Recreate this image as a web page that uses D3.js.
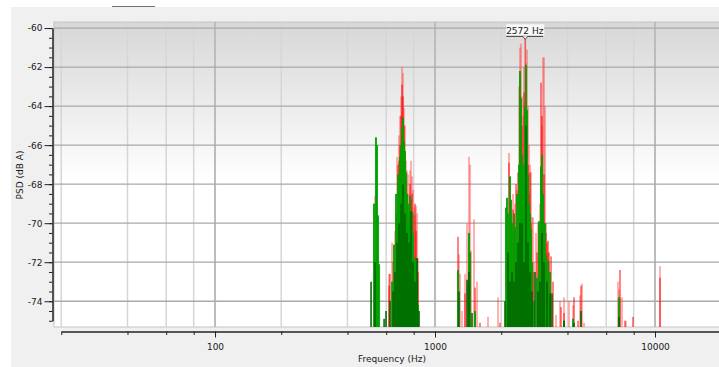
<!DOCTYPE html>
<html>
<head>
<meta charset="utf-8">
<script src="https://cdn.jsdelivr.net/npm/d3@7"></script>
<style>
  html, body { margin: 0; padding: 0; background: #ffffff; }
  svg { display: block; }
  text { font-family: "DejaVu Sans", sans-serif; font-size: 9px; fill: #1a1a1a; }
</style>
</head>
<body>
<svg id="psd" width="719" height="367"></svg>
<script>
// 频谱数据: [频率 Hz, PSD dB(A)]
const maxHoldRed = [
  [534, -68.6], [618, -72.6], [638, -71.0], [658, -70.4], [672, -66.6], [686, -65.5],
  [693, -64.5], [701, -63.5], [708, -62.0], [715, -62.3], [723, -64.1], [730, -65.0],
  [738, -66.8], [746, -67.3], [754, -67.5], [762, -68.5], [770, -67.3], [778, -66.8],
  [786, -67.6], [794, -68.3], [803, -69.2], [811, -69.6], [820, -69.1], [829, -69.5],
  [837, -71.8],
  [1285, -71.6], [1299, -72.6], [1326, -74.5], [1369, -72.6], [1398, -70.0], [1427, -66.6],
  [1443, -67.0], [1458, -71.4], [1504, -69.8], [1552, -73.0], [1741, -74.8], [1934, -73.8],
  [2169, -66.4], [2262, -68.5], [2310, -69.0], [2359, -68.3], [2409, -63.0], [2434, -61.0],
  [2460, -60.8], [2486, -63.5], [2512, -64.5], [2538, -62.0], [2592, -61.8], [2619, -61.1],
  [2647, -64.0], [2675, -66.0], [2703, -67.0], [2731, -67.4], [2760, -69.7], [2789, -69.7],
  [2818, -72.0], [2878, -70.5], [2938, -70.0], [3000, -69.0], [3064, -65.0], [3096, -61.5],
  [3129, -61.5], [3162, -64.0], [3195, -70.0], [3263, -71.5], [3297, -72.0], [3549, -74.7],
  [3700, -74.0], [3858, -73.8], [4065, -74.0], [4240, -74.2], [4562, -73.7], [4659, -73.1],
  [4757, -75.1], [6788, -73.0], [6859, -73.4], [6932, -73.8], [7079, -73.8], [7379, -75.0],
  [10537, -72.2]
]

const currentRed = [
  [618, -73.2], [624, -72.6], [645, -72.0], [665, -69.5], [679, -67.0], [686, -66.8],
  [693, -66.0], [701, -64.5], [708, -62.9], [715, -63.5], [723, -65.0], [730, -66.4],
  [738, -67.8], [746, -68.5], [754, -69.8], [762, -69.5], [770, -68.0], [778, -68.8],
  [786, -68.5], [794, -69.5], [811, -69.0], [820, -70.4], [829, -71.8], [837, -72.5],
  [1272, -70.7], [1369, -73.6], [1413, -73.0], [1443, -72.0], [1520, -73.3], [1601, -75.1],
  [1975, -75.1], [2169, -66.9], [2215, -69.5], [2262, -69.3], [2286, -70.5], [2334, -68.0],
  [2384, -67.4], [2434, -62.4], [2460, -66.5], [2486, -65.0], [2538, -63.3], [2572, -60.45],
  [2619, -65.5], [2647, -67.0], [2675, -68.5], [2703, -67.4], [2731, -70.0], [2789, -72.5],
  [2908, -71.5], [2969, -70.3], [3032, -62.8], [3064, -64.5], [3129, -67.5], [3195, -70.5],
  [3229, -71.0], [3263, -70.9], [3297, -71.5], [3367, -71.7], [3438, -73.0], [3738, -74.3],
  [3858, -74.6], [4284, -73.8], [4467, -75.0], [4610, -73.2], [6932, -72.4], [7304, -75.0],
  [7943, -74.8], [10537, -72.8]
]

const currentGreen = [
  [528, -69.0], [539, -65.6], [545, -66.0], [551, -69.6], [557, -72.1],
  [638, -73.0], [651, -71.1], [665, -68.5], [672, -69.5], [679, -67.5], [686, -68.0],
  [693, -66.6], [701, -66.0], [708, -65.1], [715, -64.6], [723, -65.8], [730, -66.3],
  [738, -67.4], [746, -68.5], [754, -70.0], [762, -69.0], [770, -68.6], [778, -69.8],
  [786, -69.4], [794, -70.5], [803, -71.8], [811, -72.0], [820, -71.8], [829, -72.8],
  [837, -74.2],
  [1272, -72.4], [1427, -70.5], [1443, -71.5], [1520, -74.5],
  [2102, -69.2], [2124, -68.7], [2147, -69.5], [2192, -67.6], [2215, -68.8], [2239, -70.0],
  [2286, -69.5], [2310, -70.2], [2334, -71.0], [2359, -68.5], [2409, -67.0], [2434, -62.2],
  [2460, -63.6], [2486, -66.5], [2512, -68.0], [2538, -67.0], [2565, -64.0], [2592, -61.9],
  [2619, -64.2], [2647, -67.5], [2675, -69.0], [2703, -69.5], [2731, -70.3], [2760, -72.0],
  [2818, -74.0], [2908, -72.8], [2969, -69.9], [3032, -67.1], [3064, -66.5], [3096, -68.5],
  [3162, -70.0], [3195, -71.6], [3263, -71.9], [3332, -72.5], [3858, -75.0], [4240, -74.9],
  [6859, -73.8]
]

const darkGreen = [
  [512, -73.0], [534, -72.0], [587, -74.9], [599, -74.5], [624, -74.0], [645, -73.5],
  [658, -72.5], [672, -71.0], [686, -70.0], [701, -69.0], [715, -68.0], [730, -69.5],
  [746, -70.5], [762, -71.0], [778, -69.4], [794, -72.0], [811, -73.0], [829, -71.8],
  [846, -74.5],
  [1285, -73.5], [1398, -72.9], [1427, -72.5], [1473, -74.6],
  [2080, -74.0], [2147, -71.5], [2192, -73.0], [2239, -72.5], [2286, -73.0], [2334, -72.0],
  [2384, -71.0], [2434, -70.0], [2486, -70.0], [2538, -72.0], [2592, -65.0], [2647, -71.0],
  [2703, -72.5], [2760, -73.5], [2848, -72.5], [2938, -73.5], [3000, -73.0], [3064, -70.5],
  [3129, -72.0], [3229, -73.0], [3332, -73.6], [3402, -73.6], [3858, -75.0], [4284, -75.1],
  [4610, -74.5], [6859, -74.8]
]

const yMajorTicks = [-74, -72, -70, -68, -66, -64, -62, -60]
const xGridTicks = [20, 40, 60, 80, 100, 200, 400, 600, 800, 1000, 2000, 4000, 6000, 8000, 10000, 20000]
const xLabelTicks = [100, 1000, 10000]
const peakHz = 2572

const svg = d3.select("#psd")
const [plotL, plotR, plotT, plotB] = [54, 730, 22, 327]

// 对数频率轴
const x = d3.scaleLog().domain([18.54, 21920]).range([plotL, plotR])
const y = d3.scaleLinear().domain([-75.32, -59.69]).range([plotB, plotT])

// 外框背景
svg.append("rect").attr("x", 11).attr("y", 7).attr("width", 708).attr("height", 360).attr("fill", "#f0f0f0")
svg.append("line").attr("x1", 112).attr("x2", 155).attr("y1", 6.5).attr("y2", 6.5).attr("stroke", "#707070").attr("stroke-width", 1)

const defs = svg.append("defs")
const grad = defs.append("linearGradient").attr("id", "bg").attr("x1", 0).attr("x2", 0).attr("y1", 0).attr("y2", 1)
grad.append("stop").attr("offset", "0%").attr("stop-color", "#d7d7d7")
grad.append("stop").attr("offset", "52%").attr("stop-color", "#ffffff")
grad.append("stop").attr("offset", "100%").attr("stop-color", "#ffffff")
defs.append("clipPath").attr("id", "clip").append("rect")
  .attr("x", plotL).attr("y", plotT).attr("width", plotR - plotL).attr("height", plotB - plotT)

svg.append("rect").attr("x", plotL).attr("y", plotT).attr("width", plotR - plotL).attr("height", plotB - plotT)
  .attr("fill", "url(#bg)").attr("stroke", "#c4c4c4")

const plot = svg.append("g").attr("clip-path", "url(#clip)")

// 网格线
plot.selectAll(".vgrid").data(xGridTicks).enter().append("line")
  .attr("x1", d => x(d)).attr("x2", d => x(d)).attr("y1", plotT).attr("y2", plotB)
  .attr("stroke", d => xLabelTicks.includes(d) ? "#bcbcbc" : "#d6d6d6")
  .attr("stroke-width", d => xLabelTicks.includes(d) ? 2 : 1.5)
plot.selectAll(".hgrid").data(yMajorTicks).enter().append("line")
  .attr("x1", plotL).attr("x2", plotR).attr("y1", d => y(d)).attr("y2", d => y(d))
  .attr("stroke", "#a9a9a9").attr("stroke-width", 1.3)

// 频谱柱
const series = [
  { data: maxHoldRed, color: "rgba(255,70,70,0.42)", w: 2 },
  { data: currentRed, color: "rgba(255,0,0,0.6)", w: 1.6 },
  { data: currentGreen, color: "rgba(0,160,0,0.92)", w: 2 },
  { data: darkGreen, color: "rgba(0,100,0,0.85)", w: 1.8 }
]
series.forEach(s => {
  plot.append("g").selectAll("rect").data(s.data).enter().append("rect")
    .attr("x", d => x(d[0]) - s.w / 2)
    .attr("y", d => y(d[1]))
    .attr("width", s.w)
    .attr("height", d => plotB - y(d[1]))
    .attr("fill", s.color)
})

// 峰值标注
const peak = currentRed.find(d => d[0] === peakHz)
const px = x(peak[0]), py = y(peak[1])
const tip = svg.append("g")
tip.append("rect").attr("x", px - 19).attr("y", py - 12.5).attr("width", 38).attr("height", 12).attr("fill", "#ffffff").attr("opacity", 0.85)
tip.append("line").attr("x1", px - 19).attr("x2", px + 18).attr("y1", py - 0.5).attr("y2", py - 0.5).attr("stroke", "#333")
tip.append("path").attr("d", `M${px - 2.5},${py - 0.5} L${px},${py + 2.5} L${px + 2.5},${py - 0.5}`).attr("fill", "#fff").attr("stroke", "#333").attr("stroke-width", 0.8)
tip.append("text").attr("x", px - 0.5).attr("y", py - 3).attr("text-anchor", "middle").text(peakHz + " Hz")

// Y 轴
const yAx = y.copy().domain([-75, -60]).range([y(-75), y(-60)])
const yAxisG = svg.append("g").attr("transform", "translate(52.5,0)")
yAxisG.append("g").call(d3.axisLeft(yAx).tickValues(d3.range(-75, -59.9, 0.5)).tickSize(3.5).tickSizeOuter(0).tickFormat(""))
yAxisG.append("g").call(d3.axisLeft(yAx).tickValues(yMajorTicks).tickSize(8).tickSizeOuter(0).tickPadding(2).tickFormat(d => String(d)))
yAxisG.selectAll("path, line").attr("stroke", "#222")
yAxisG.selectAll("text").style("font-family", "DejaVu Sans").style("font-size", "9px")

// X 轴
const xAx = x.copy().domain([20, 21920]).range([x(20), plotR])
const xAxisG = svg.append("g").attr("transform", "translate(0,331.5)")
xAxisG.append("g").call(d3.axisBottom(xAx).tickValues(xGridTicks).tickSize(3.5).tickSizeOuter(0).tickFormat(""))
xAxisG.append("g").call(d3.axisBottom(xAx).tickValues(xLabelTicks).tickSize(6).tickSizeOuter(0).tickPadding(6).tickFormat(d3.format("d")))
xAxisG.selectAll("path, line").attr("stroke", "#222")
xAxisG.selectAll("text").style("font-family", "DejaVu Sans").style("font-size", "9px")

// 轴标题
svg.append("text").attr("x", 392).attr("y", 362).attr("text-anchor", "middle").text("Frequency (Hz)")
svg.append("text").attr("transform", "translate(23,175) rotate(-90)").attr("text-anchor", "middle").text("PSD (dB A)")
</script>
</body>
</html>
